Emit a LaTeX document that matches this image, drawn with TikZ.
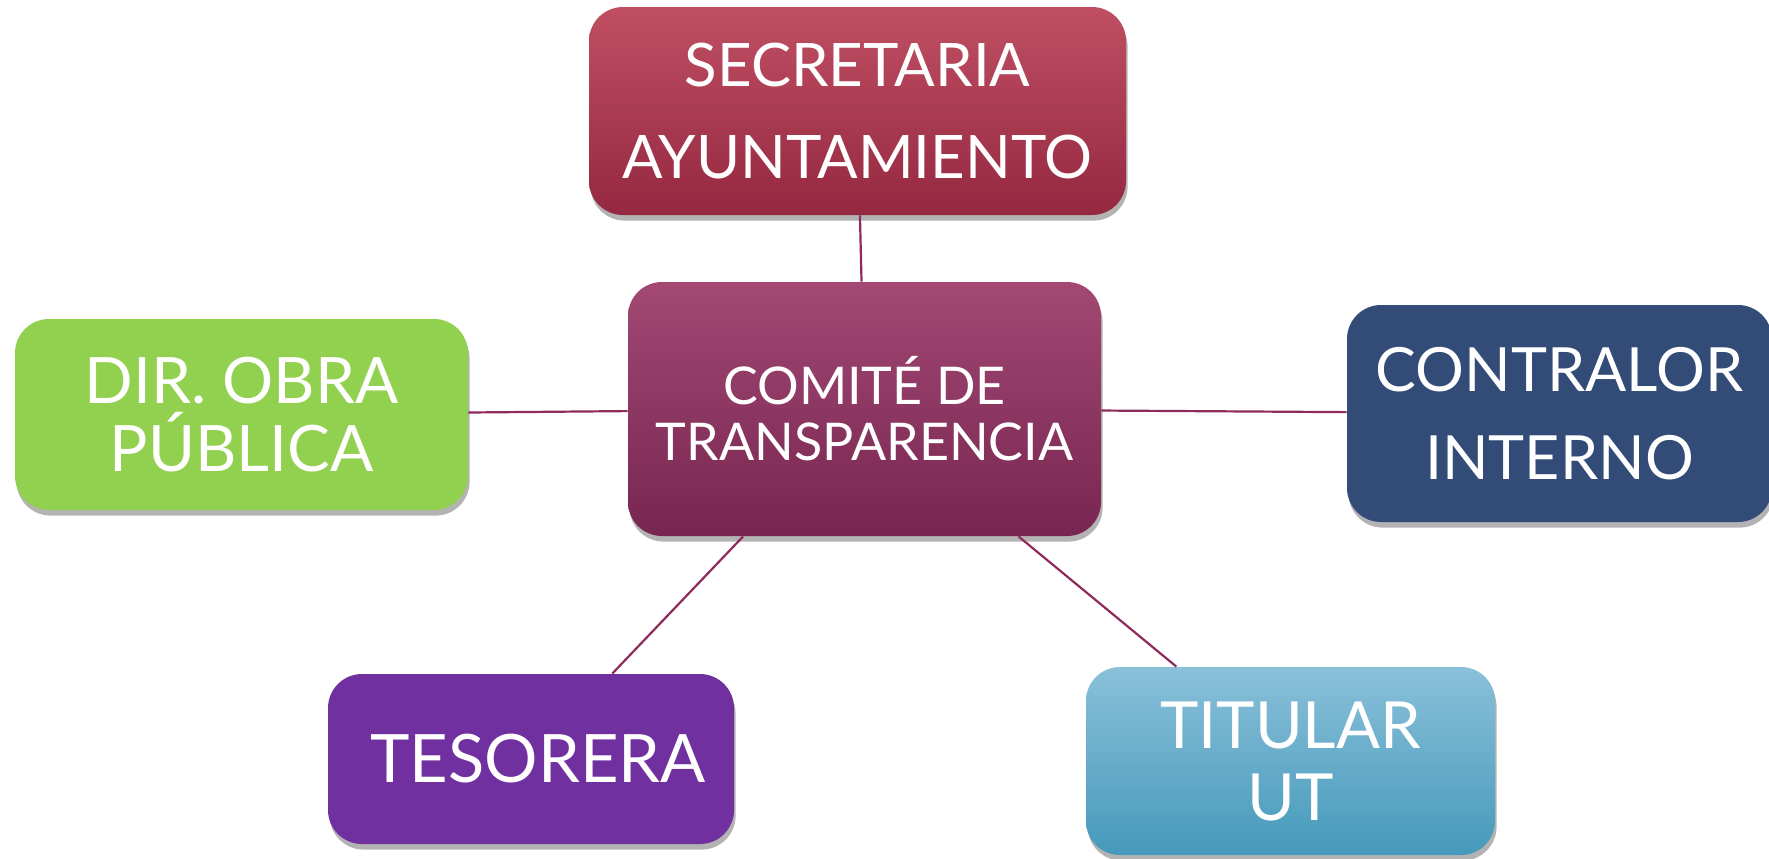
\documentclass[tikz,border=0pt]{standalone}
\usepackage{fontspec}
\setmainfont{Lato}
\usetikzlibrary{shadows}
\definecolor{secTop}{HTML}{C04F63}
\definecolor{secBot}{HTML}{942840}
\definecolor{comTop}{HTML}{A24873}
\definecolor{comBot}{HTML}{772651}
\definecolor{dirGreen}{HTML}{92D050}
\definecolor{conBlue}{HTML}{324B77}
\definecolor{tesPurple}{HTML}{7030A0}
\definecolor{titTop}{HTML}{8AC0D9}
\definecolor{titBot}{HTML}{4599BB}
\definecolor{linkC}{HTML}{8E2A5C}
\begin{document}
\begin{tikzpicture}[x=1pt,y=1pt,
  box/.style={rounded corners=17pt, text=white, align=center, inner sep=0pt,
    drop shadow={shadow xshift=0.8pt, shadow yshift=-2.8pt, opacity=0.4, fill=black!75}},
  link/.style={draw=linkC, line width=1.1pt}]
\useasboundingbox (0,0) rectangle (884.5,-429);
\node[box, top color=secTop, bottom color=secBot, minimum width=268.5pt, minimum height=104pt,
  font=\fontsize{30}{46}\selectfont] (sec) at (428.75,-55.5) {SECRETARIA\\AYUNTAMIENTO};
\node[box, top color=comTop, bottom color=comBot, minimum width=236.5pt, minimum height=127pt,
  font=\fontsize{26}{28}\selectfont] (com) at (432.25,-204.5) {COMITÉ DE\\TRANSPARENCIA};
\node[box, fill=dirGreen, minimum width=226.5pt, minimum height=95.5pt,
  font=\fontsize{32}{34}\selectfont] (dir) at (120.75,-207.25) {DIR. OBRA\\PÚBLICA};
\node[box, fill=conBlue, minimum width=212.5pt, minimum height=108.5pt,
  font=\fontsize{30.5}{44}\selectfont] (con) at (779.75,-206.75) {CONTRALOR\\INTERNO};
\node[box, fill=tesPurple, minimum width=203pt, minimum height=85pt,
  font=\fontsize{33.4}{40}\selectfont] (tes) at (265.5,-379.5) {\hspace*{7pt}TESORERA};
\node[box, top color=titTop, bottom color=titBot, minimum width=204.5pt, minimum height=94pt,
  font=\fontsize{32.5}{36}\selectfont] (tit) at (645.25,-380.5) {TITULAR\\UT};
\draw[link] (sec) -- (com);
\draw[link] (dir) -- (com);
\draw[link] (com) -- (con);
\draw[link] (com) -- (tes);
\draw[link] (com) -- (tit);
\end{tikzpicture}
\end{document}
